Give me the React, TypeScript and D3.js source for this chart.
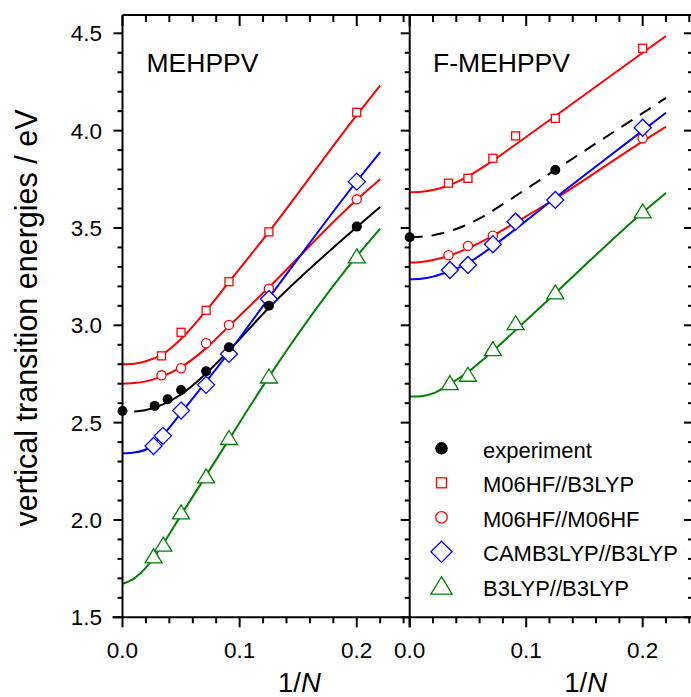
import React from "react";
import * as d3 from "d3";

// ---------- DATA ----------
// MEHPPV (left panel)
const mehSqX = [0.0333, 0.05, 0.0714, 0.0909, 0.125, 0.2];
const mehSqY = [2.843, 2.964, 3.077, 3.224, 3.48, 4.094];
const mehCiX = [0.0333, 0.05, 0.0714, 0.0909, 0.125, 0.2];
const mehCiY = [2.743, 2.779, 2.908, 3.002, 3.188, 3.647];
const mehExpX = [0, 0.0275, 0.0385, 0.05, 0.0714, 0.0909, 0.125, 0.2];
const mehExpY = [2.56, 2.586, 2.62, 2.668, 2.764, 2.887, 3.101, 3.507];
const mehDiX = [0.0265, 0.0345, 0.05, 0.0714, 0.0909, 0.125, 0.2];
const mehDiY = [2.38, 2.432, 2.562, 2.694, 2.853, 3.135, 3.738];
const mehTrX = [0.0265, 0.0348, 0.05, 0.0714, 0.0909, 0.125, 0.2];
const mehTrY = [1.812, 1.872, 2.038, 2.223, 2.42, 2.736, 3.353];

// fitted curves, left panel
const fitX = [0, 0.01, 0.02, 0.035, 0.05, 0.07, 0.09, 0.125, 0.2, 0.22];
const mehSqFit = [2.8, 2.803, 2.815, 2.855, 2.93, 3.065, 3.215, 3.48, 4.08, 4.232];
const mehCiFit = [2.7, 2.703, 2.712, 2.74, 2.785, 2.875, 2.99, 3.195, 3.645, 3.75];
const mehExpFitX = [0.01, 0.02, 0.035, 0.05, 0.07, 0.09, 0.125, 0.2, 0.22];
const mehExpFit = [2.557, 2.565, 2.595, 2.645, 2.745, 2.865, 3.09, 3.505, 3.608];
const mehDiFit = [2.343, 2.347, 2.362, 2.44, 2.55, 2.7, 2.855, 3.14, 3.74, 3.89];
const mehTrFit = [1.672, 1.7, 1.755, 1.88, 2.025, 2.215, 2.405, 2.735, 3.355, 3.497];

// F-MEHPPV (right panel)
const fSqX = [0.0333, 0.05, 0.0714, 0.0909, 0.125, 0.2];
const fSqY = [3.73, 3.755, 3.858, 3.973, 4.063, 4.423];
const fCiX = [0.0333, 0.05, 0.0714, 0.0909, 0.125, 0.2];
const fCiY = [3.36, 3.408, 3.46, 3.546, 3.649, 3.961];
const fExpX = [0, 0.125];
const fExpY = [3.452, 3.798];
const fDiX = [0.0345, 0.05, 0.0714, 0.0909, 0.125, 0.2];
const fDiY = [3.284, 3.31, 3.416, 3.532, 3.644, 4.015];
const fTrX = [0.0345, 0.05, 0.0714, 0.0909, 0.125, 0.2];
const fTrY = [2.702, 2.745, 2.877, 3.01, 3.168, 3.584];

const fSqFit = [3.683, 3.686, 3.695, 3.722, 3.765, 3.84, 3.925, 4.075, 4.4, 4.486];
const fCiFit = [3.322, 3.325, 3.335, 3.36, 3.395, 3.455, 3.525, 3.65, 3.945, 4.02];
const fDiFit = [3.236, 3.239, 3.25, 3.28, 3.32, 3.4, 3.49, 3.655, 4.0, 4.092];
const fTrFit = [2.634, 2.636, 2.65, 2.7, 2.76, 2.86, 2.97, 3.165, 3.58, 3.68];
const fExpFitX = [0, 0.02, 0.04, 0.06, 0.08, 0.1, 0.125, 0.15, 0.2, 0.22];
const fExpFit = [3.452, 3.463, 3.495, 3.549, 3.622, 3.7, 3.798, 3.896, 4.09, 4.168];

const yMajor = [1.5, 2.0, 2.5, 3.0, 3.5, 4.0, 4.5];
const xMajor = [0, 0.1, 0.2];
const xTickLabels = ["0.0", "0.1", "0.2"];
const yTickLabels = ["1.5", "2.0", "2.5", "3.0", "3.5", "4.0", "4.5"];

const legendLabels = ["experiment", "M06HF//B3LYP", "M06HF//M06HF", "CAMB3LYP//B3LYP", "B3LYP//B3LYP"];
const legendMarkers = ["dot", "square", "circle", "diamond", "triangle"];

const RED = "#ff0000";
const BLUE = "#0000ff";
const GREEN = "#008000";
const FONT = "'Liberation Sans', Arial, sans-serif";

// ---------- LAYOUT ----------
const W = 691;
const H = 697;
const yTop = 15;
const yBot = 617.3;
const yScale = d3.scaleLinear().domain([1.5, 4.594]).range([yBot, yTop]);
const xLeft = d3.scaleLinear().domain([0, 0.2452]).range([122.5, 409.7]);
const xRight = d3.scaleLinear().domain([0, 0.2432]).range([409.7, 693]);

const minorY = d3.range(1.6, 4.55, 0.1).filter((v) => Math.abs(v * 2 - Math.round(v * 2)) > 0.01);
const minorX = d3.range(0.02, 0.245, 0.02).filter((v) => Math.abs(v * 10 - Math.round(v * 10)) > 0.01);

function Marker({ type, x, y, color, big }: { type: string; x: number; y: number; color: string; big?: boolean }) {
  const k = big ? 1.25 : 1;
  const sw = 1.3;
  if (type === "dot") return <circle cx={x} cy={y} r={5 * k} fill="#000" />;
  if (type === "square") {
    const s = 8 * k;
    return <rect x={x - s / 2} y={y - s / 2} width={s} height={s} fill="#fff" stroke={color} strokeWidth={sw} />;
  }
  if (type === "circle") return <circle cx={x} cy={y} r={4.6 * k} fill="#fff" stroke={color} strokeWidth={sw} />;
  if (type === "diamond") {
    const d = 8.5 * k;
    return (
      <path d={`M${x},${y - d}L${x + d},${y}L${x},${y + d}L${x - d},${y}Z`} fill="#fff" stroke={color} strokeWidth={sw} />
    );
  }
  const w = 8.5 * k;
  const h = 14 * k;
  return (
    <path
      d={`M${x},${y - h * 0.55}L${x + w},${y + h * 0.45}L${x - w},${y + h * 0.45}Z`}
      fill="#fff"
      stroke={color}
      strokeWidth={sw}
    />
  );
}

function Curve({ xs, ys, sx, color, dash }: { xs: number[]; ys: number[]; sx: any; color: string; dash?: string }) {
  const pts = xs.map((v, i) => [v, ys[i]] as [number, number]);
  const line = d3
    .line<[number, number]>()
    .x((d) => sx(d[0]))
    .y((d) => yScale(d[1]))
    .curve(d3.curveMonotoneX);
  return <path d={line(pts) || ""} fill="none" stroke={color} strokeWidth={2} strokeDasharray={dash} />;
}

function Points({ xs, ys, sx, type, color }: { xs: number[]; ys: number[]; sx: any; type: string; color: string }) {
  return (
    <g>
      {xs.map((v, i) => (
        <Marker key={i} type={type} x={sx(v)} y={yScale(ys[i])} color={color} />
      ))}
    </g>
  );
}

function Frame({ sx, leftTicks, rightX }: { sx: any; leftTicks: boolean; rightX: number }) {
  const [x0, x1] = sx.range();
  const tk = 9;
  const tm = 5;
  return (
    <g stroke="#000" strokeWidth={2} fill="none">
      <line x1={x0} x2={x1} y1={yTop} y2={yTop} />
      <line x1={x0 - (leftTicks ? 10 : 0)} x2={x1} y1={yBot} y2={yBot} />
      {xMajor.map((v) => (
        <g key={"M" + v}>
          <line x1={sx(v)} x2={sx(v)} y1={yBot} y2={yBot + tk + 1} />
          <line x1={sx(v)} x2={sx(v)} y1={yTop} y2={yTop + tk + 2} />
        </g>
      ))}
      {minorX.map((v) => (
        <g key={"m" + v}>
          <line x1={sx(v)} x2={sx(v)} y1={yBot} y2={yBot + tm + 1} />
          <line x1={sx(v)} x2={sx(v)} y1={yTop} y2={yTop + tm + 2} />
        </g>
      ))}
      {leftTicks && (
        <g>
          <line x1={x0} x2={x0} y1={yTop} y2={yBot} />
          {yMajor.map((v) => (
            <line key={"yl" + v} x1={x0 - tk} x2={x0} y1={yScale(v)} y2={yScale(v)} />
          ))}
          {minorY.map((v) => (
            <line key={"yml" + v} x1={x0 - tm} x2={x0} y1={yScale(v)} y2={yScale(v)} />
          ))}
        </g>
      )}
      <line x1={rightX} x2={rightX} y1={yTop} y2={yBot + (leftTicks ? 10 : 0)} />
      {yMajor.map((v) => (
        <line key={"yr" + v} x1={rightX - tk} x2={rightX} y1={yScale(v)} y2={yScale(v)} />
      ))}
      {minorY.map((v) => (
        <line key={"ymr" + v} x1={rightX - tm} x2={rightX} y1={yScale(v)} y2={yScale(v)} />
      ))}
    </g>
  );
}

function XLabels({ sx }: { sx: any }) {
  return (
    <g fontFamily={FONT} fontSize={22.5} textAnchor="middle" fill="#000">
      {xMajor.map((v, i) => (
        <text key={v} x={sx(v)} y={658}>
          {xTickLabels[i]}
        </text>
      ))}
      <text x={sx(0.151)} y={692} fontSize={27.5}>
        1/<tspan fontStyle="italic">N</tspan>
      </text>
    </g>
  );
}

export default function App() {
  return (
    <svg
      width={W}
      height={H}
      viewBox={`0 0 ${W} ${H}`}
      style={{ position: "absolute", left: 0, top: 0, background: "#fff" }}
    >
      <rect x={0} y={0} width={W} height={H} fill="#fff" />

      {/* ---------- left panel ---------- */}
      <Curve xs={fitX} ys={mehSqFit} sx={xLeft} color={RED} />
      <Curve xs={fitX} ys={mehCiFit} sx={xLeft} color={RED} />
      <Curve xs={mehExpFitX} ys={mehExpFit} sx={xLeft} color="#000" />
      <Curve xs={fitX} ys={mehDiFit} sx={xLeft} color={BLUE} />
      <Curve xs={fitX} ys={mehTrFit} sx={xLeft} color={GREEN} />
      <Points xs={mehSqX} ys={mehSqY} sx={xLeft} type="square" color={RED} />
      <Points xs={mehCiX} ys={mehCiY} sx={xLeft} type="circle" color={RED} />
      <Points xs={mehDiX} ys={mehDiY} sx={xLeft} type="diamond" color={BLUE} />
      <Points xs={mehTrX} ys={mehTrY} sx={xLeft} type="triangle" color={GREEN} />
      <Points xs={mehExpX} ys={mehExpY} sx={xLeft} type="dot" color="#000" />

      {/* ---------- right panel ---------- */}
      <Curve xs={fitX} ys={fSqFit} sx={xRight} color={RED} />
      <Curve xs={fitX} ys={fCiFit} sx={xRight} color={RED} />
      <Curve xs={fExpFitX} ys={fExpFit} sx={xRight} color="#000" dash="13 9" />
      <Curve xs={fitX} ys={fDiFit} sx={xRight} color={BLUE} />
      <Curve xs={fitX} ys={fTrFit} sx={xRight} color={GREEN} />
      <Points xs={fSqX} ys={fSqY} sx={xRight} type="square" color={RED} />
      <Points xs={fCiX} ys={fCiY} sx={xRight} type="circle" color={RED} />
      <Points xs={fDiX} ys={fDiY} sx={xRight} type="diamond" color={BLUE} />
      <Points xs={fTrX} ys={fTrY} sx={xRight} type="triangle" color={GREEN} />
      <Points xs={fExpX} ys={fExpY} sx={xRight} type="dot" color="#000" />

      <Frame sx={xLeft} leftTicks={true} rightX={xLeft.range()[1]} />
      <Frame sx={xRight} leftTicks={false} rightX={693} />

      {/* y tick labels */}
      <g fontFamily={FONT} fontSize={22.5} textAnchor="end" fill="#000">
        {yMajor.map((v, i) => (
          <text key={v} x={102} y={yScale(v) + 8}>
            {yTickLabels[i]}
          </text>
        ))}
      </g>
      <XLabels sx={xLeft} />
      <XLabels sx={xRight} />

      {/* panel titles */}
      <text x={146.5} y={72} fontFamily={FONT} fontSize={26.5} fill="#000">
        MEHPPV
      </text>
      <text x={433} y={72} fontFamily={FONT} fontSize={26.5} fill="#000">
        F-MEHPPV
      </text>

      {/* y axis title */}
      <text
        transform="translate(37,318) rotate(-90)"
        textAnchor="middle"
        fontFamily={FONT}
        fontSize={30.5}
        fill="#000"
      >
        vertical transition energies / eV
      </text>

      {/* legend */}
      {legendLabels.map((lab, i) => {
        const cy = 448.3 + i * 34.5;
        const colors = ["#000", RED, RED, BLUE, GREEN];
        return (
          <g key={lab}>
            <Marker type={legendMarkers[i]} x={441.5} y={cy} color={colors[i]} big={true} />
            <text x={483} y={cy + 9.5} fontFamily={FONT} fontSize={22} fill="#000">
              {lab}
            </text>
          </g>
        );
      })}
    </svg>
  );
}
